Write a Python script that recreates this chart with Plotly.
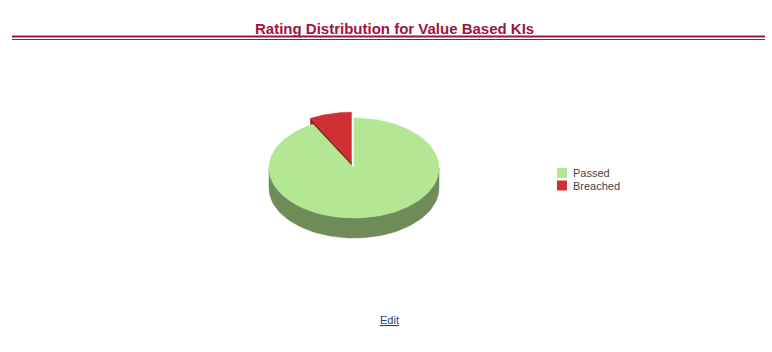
import numpy as np
import plotly.graph_objects as go

# ---- data ----
labels = ["Passed", "Breached"]
values = [92, 8]

# ---- style ----
top_colors = ["#b3e794", "#cf3034"]
side_colors = ["#6e8b58", "#8f1f22"]
pulls = [0.0, 0.12]

W, H = 772, 352
cx, cy, rx, ry, depth = 354, 168, 85, 50, 20


def pt(t, r, ox, oy, dz=0.0):
    return cx + ox + r * rx * np.sin(t), cy + oy - r * ry * np.cos(t) + dz


total = float(sum(values))
slices = []
start = 0.0
for lab, v, tc, sc, p in zip(labels, values, top_colors, side_colors, pulls):
    t0 = start
    t1 = start + v / total * 2 * np.pi
    start = t1
    mid = (t0 + t1) / 2
    ox = p * rx * np.sin(mid)
    oy = -p * ry * np.cos(mid)
    slices.append(dict(label=lab, t0=t0, t1=t1, mid=mid, ox=ox, oy=oy, tc=tc, sc=sc))

# back-most slices first
slices.sort(key=lambda s: -np.cos(s["mid"]))

fig = go.Figure()


def poly(xs, ys, color):
    xs = list(xs) + [xs[0]]
    ys = list(ys) + [ys[0]]
    fig.add_trace(go.Scatter(x=xs, y=ys, mode="lines", fill="toself", fillcolor=color,
                             line=dict(color=color, width=0.5), hoverinfo="skip",
                             showlegend=False))


for s in slices:
    t0, t1, ox, oy = s["t0"], s["t1"], s["ox"], s["oy"]
    # cut faces
    for t, sign in ((t0, -1), (t1, 1)):
        vis = (np.sin(t) < -1e-6) if sign < 0 else (np.sin(t) > 1e-6)
        if vis:
            xa, ya = pt(t, 0, ox, oy)
            xb, yb = pt(t, 1, ox, oy)
            poly([xa, xb, xb, xa], [ya, yb, yb + depth, ya + depth], s["sc"])
    # outer side (front half only)
    a = max(t0, np.pi / 2)
    b = min(t1, 3 * np.pi / 2)
    if b > a:
        ts = np.linspace(a, b, 80)
        xt, yt = pt(ts, 1, ox, oy)
        xb, yb = pt(ts[::-1], 1, ox, oy, depth)
        poly(np.concatenate([xt, xb]), np.concatenate([yt, yb]), s["sc"])
    # top face
    ts = np.linspace(t0, t1, 120)
    xt, yt = pt(ts, 1, ox, oy)
    xc, yc = pt(0, 0, ox, oy)
    poly(np.concatenate([[xc], xt]), np.concatenate([[yc], yt]), s["tc"])

# manual legend (swatches + text)
shapes = [
    dict(type="line", xref="x", yref="y", x0=12, x1=765, y0=36.5, y1=36.5,
         line=dict(color="#9b1444", width=2)),
    dict(type="line", xref="x", yref="y", x0=12, x1=765, y0=39.5, y1=39.5,
         line=dict(color="#9b1444", width=1)),
]
annotations = [
    dict(text="<b>Rating Distribution for Value Based KIs</b>", x=394.5, y=28,
         xref="x", yref="y", showarrow=False,
         font=dict(family="Liberation Sans, Arial", size=15, color="#a3123f")),
    dict(text="<u>Edit</u>", x=389, y=320, xref="x", yref="y", showarrow=False,
         font=dict(family="Liberation Sans, Arial", size=11, color="#1f3c8c")),
]
leg_x, leg_y, leg_dy = 557, 173, 12.5
for i, (lab, c) in enumerate(zip(labels, top_colors)):
    yc = leg_y + i * leg_dy
    shapes.append(dict(type="rect", xref="x", yref="y", x0=leg_x, x1=leg_x + 10,
                       y0=yc - 5, y1=yc + 5, fillcolor=c, line=dict(width=0)))
    annotations.append(dict(text=lab, x=leg_x + 14, y=yc, xref="x", yref="y",
                            xanchor="left", yanchor="middle", showarrow=False,
                            font=dict(family="Liberation Sans, Arial", size=11,
                                      color="#444444")))

fig.update_layout(
    width=W, height=H,
    margin=dict(l=0, r=0, t=0, b=0),
    paper_bgcolor="white", plot_bgcolor="white",
    xaxis=dict(range=[0, W], visible=False, fixedrange=True),
    yaxis=dict(range=[H, 0], visible=False, fixedrange=True),
    showlegend=False,
    shapes=shapes,
    annotations=annotations,
)

fig.write_html("out.html")
